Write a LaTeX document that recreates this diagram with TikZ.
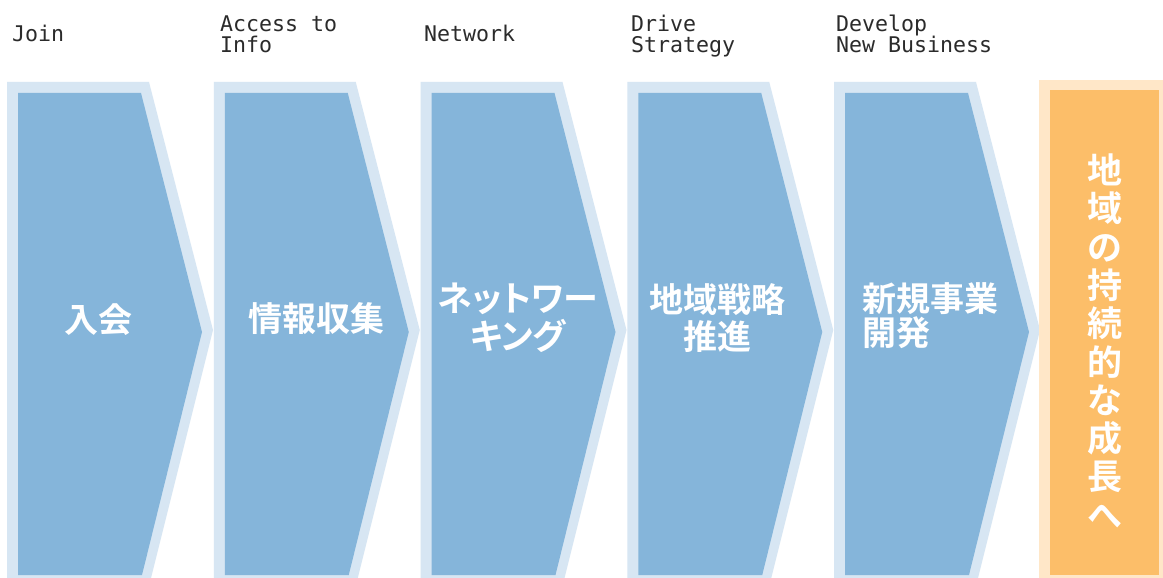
\documentclass[tikz,border=0pt]{standalone}
\usepackage{fontspec}
\setmonofont{DejaVu Sans Mono}
\newfontfamily\jpfont{Noto Sans CJK JP Bold}
\newfontfamily\jpkana[RawFeature=+palt]{Noto Sans CJK JP Bold}
\definecolor{chevin}{HTML}{85B5DA}
\definecolor{chevout}{HTML}{D7E6F3}
\definecolor{orin}{HTML}{FCBE69}
\definecolor{orout}{HTML}{FFE7C8}
\definecolor{labtxt}{HTML}{2B2B2B}
\tikzset{
  lab/.style={anchor=base west, inner sep=0pt, text=labtxt, font=\ttfamily\fontsize{21.6}{21}\selectfont, align=left},
  jp/.style={inner sep=0pt, text=white, font=\jpfont\fontsize{34}{37}\selectfont},
}
\newcommand{\chev}[1]{%
  \fill[chevout] (#1+0,82) -- (#1+142,82) -- (#1+206,330) -- (#1+144,578) -- (#1+0,578) -- cycle;
  \fill[chevin] (#1+11,93) -- (#1+134,93) -- (#1+195,332) -- (#1+135,575) -- (#1+11,575) -- cycle;
}
\begin{document}
\begin{tikzpicture}[x=1pt,y=-1pt]
\useasboundingbox (0,0) rectangle (1163,578);
\fill[white] (0,0) rectangle (1163,578);
\chev{7}
\chev{213.75}
\chev{420.5}
\chev{627.25}
\chev{834}
\fill[orout] (1039,80) rectangle (1163,578);
\fill[orin] (1050,90) rectangle (1159,575);
% top labels
\node[lab] (l1) at (12,42) {Join};
\node[lab] (l2) at (220,53) {Access to\\[0.5pt]Info};
\node[lab] (l3) at (424,42) {Network};
\node[lab] (l4) at (631,53) {Drive\\[0.5pt]Strategy};
\node[lab] (l5) at (836,53) {Develop\\[0.5pt]New Business};
% Japanese texts
\node[jp] (j1) at (98,320) {入会};
\node[jp] (j2) at (316,319) {情報収集};
\node[jp, align=center, font=\jpkana\fontsize{35}{38}\selectfont] (j3) at (518,318) {ネットワー\\キング};
\node[jp, align=center] (j4) at (717,318) {地域戦略\\推進};
\node[jp, align=left, font=\jpfont\fontsize{34}{34}\selectfont] (j5) at (930,316) {新規事業\\開発};
\node[jp, align=center, font=\jpfont\fontsize{35}{38.3}\selectfont] (j6) at (1105,341) {地\\域\\の\\持\\続\\的\\な\\成\\長\\へ};
\end{tikzpicture}
\end{document}
